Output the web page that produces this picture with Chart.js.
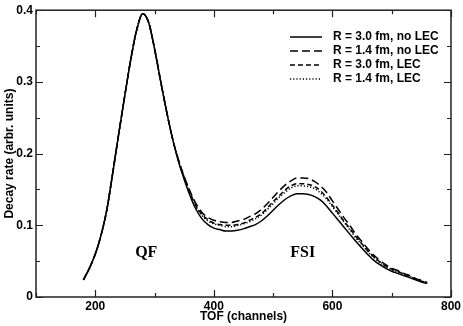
<!DOCTYPE html>
<html><head><meta charset="utf-8">
<script src="https://cdn.jsdelivr.net/npm/chart.js@4/dist/chart.umd.min.js"></script>
<style>html,body{margin:0;padding:0;background:#fff}canvas{display:block}</style>
</head><body>
<canvas id="c" width="463" height="326"></canvas>
<script>
const tof = [180,190,200,210,220,230,240,250,260,270,280,290,300,310,320,330,340,350,360,370,380,390,400,410,420,430,440,450,460,470,480,490,500,510,520,530,540,550,560,570,580,590,600,610,620,630,640,650,660,670,680,690,700,710,720,730,740,750,760];
const qfPart = [0.024,0.040,0.060,0.087,0.124,0.176,0.230,0.282,0.332,0.373,0.395,0.383,0.346,0.302,0.260,0.222];
const r30noLEC = qfPart.concat([0.190,0.164,0.141,0.122,0.109,0.101,0.096,0.094,0.092,0.092,0.093,0.095,0.098,0.101,0.106,0.113,0.121,0.129,0.136,0.141,0.144,0.144,0.143,0.140,0.135,0.127,0.117,0.107,0.097,0.087,0.077,0.068,0.059,0.051,0.045,0.040,0.036,0.033,0.030,0.027,0.024,0.021,0.019]);
const r14noLEC = qfPart.concat([0.192,0.168,0.147,0.130,0.118,0.111,0.107,0.105,0.104,0.104,0.106,0.108,0.112,0.116,0.122,0.130,0.139,0.148,0.156,0.162,0.166,0.166,0.165,0.161,0.155,0.146,0.134,0.122,0.110,0.099,0.087,0.077,0.067,0.058,0.051,0.045,0.040,0.037,0.033,0.030,0.026,0.023,0.020]);
const r30LEC = qfPart.concat([0.191,0.167,0.145,0.127,0.115,0.108,0.103,0.101,0.100,0.100,0.101,0.103,0.107,0.111,0.116,0.124,0.133,0.141,0.149,0.155,0.158,0.158,0.157,0.154,0.148,0.139,0.128,0.117,0.105,0.095,0.084,0.074,0.064,0.056,0.049,0.043,0.039,0.036,0.032,0.029,0.025,0.022,0.020]);
const r14LEC = qfPart.concat([0.191,0.166,0.144,0.126,0.114,0.106,0.102,0.100,0.098,0.098,0.100,0.102,0.105,0.109,0.114,0.122,0.130,0.139,0.146,0.152,0.155,0.155,0.154,0.151,0.145,0.137,0.126,0.115,0.104,0.093,0.082,0.073,0.063,0.055,0.048,0.042,0.038,0.035,0.032,0.029,0.025,0.022,0.020]);
const seriesLabels = ['R = 3.0 fm, no LEC','R = 1.4 fm, no LEC','R = 3.0 fm, LEC','R = 1.4 fm, LEC'];
const xTicks = [200,400,600,800];
const yTicks = [0,0.1,0.2,0.3,0.4];
const notes = [{text:'QF', x:286, y:0.062},{text:'FSI', x:550, y:0.062}];

const dashes = [[],[8,4],[5,3],[1.2,2]];
const sets = [r30noLEC,r14noLEC,r30LEC,r14LEC].map((arr,i)=>({
  label: seriesLabels[i],
  data: tof.map((t,j)=>({x:t,y:arr[j]})),
  borderColor:'#000', borderWidth:1.5, borderDash:dashes[i],
  pointRadius:0, fill:false, cubicInterpolationMode:'monotone'
}));
const bold12 = {family:'"Liberation Sans", Arial, sans-serif', size:12, weight:'bold'};

const frame = {
  id:'frame',
  afterDraw(chart){
    const {ctx, chartArea:a, scales:{x,y}} = chart;
    ctx.save();
    ctx.strokeStyle='#222'; ctx.lineWidth=1.5;
    ctx.strokeRect(a.left,a.top,a.right-a.left,a.bottom-a.top);
    ctx.lineWidth=1.2;
    ctx.beginPath();
    for(let v=100; v<=800; v+=100){
      const px=Math.round(x.getPixelForValue(v))+0.5;
      const L = (v%200===0)?7:4;
      ctx.moveTo(px,a.bottom); ctx.lineTo(px,a.bottom-L);
      ctx.moveTo(px,a.top); ctx.lineTo(px,a.top+L);
    }
    for(let k=0;k<=8;k++){
      const v=k*0.05;
      const py=Math.round(y.getPixelForValue(v))+0.5;
      const L=(k%2===0)?7:4;
      ctx.moveTo(a.left,py); ctx.lineTo(a.left+L,py);
      ctx.moveTo(a.right,py); ctx.lineTo(a.right-L,py);
    }
    ctx.stroke();
    // legend
    const lx0=290, lx1=322, tx=333; let ly=37;
    ctx.font='bold 12px "Liberation Sans", Arial, sans-serif';
    ctx.textBaseline='middle'; ctx.fillStyle='#000';
    chart.data.datasets.forEach(ds=>{
      ctx.beginPath(); ctx.setLineDash(ds.borderDash); ctx.lineWidth=1.5; ctx.strokeStyle='#000';
      ctx.moveTo(lx0,ly); ctx.lineTo(lx1,ly); ctx.stroke();
      ctx.setLineDash([]);
      ctx.fillText(ds.label,tx,ly);
      ly+=14;
    });
    // annotations
    ctx.font='bold 16px "Liberation Serif", "Times New Roman", serif';
    ctx.textAlign='center';
    notes.forEach(n=>ctx.fillText(n.text, x.getPixelForValue(n.x), y.getPixelForValue(n.y)));
    ctx.restore();
  }
};

new Chart(document.getElementById('c'),{
  type:'line',
  data:{datasets:sets},
  options:{
    responsive:false, animation:false,
    layout:{padding:{top:5,right:10,left:2,bottom:0}},
    plugins:{legend:{display:false},tooltip:{enabled:false}},
    scales:{
      x:{type:'linear',min:100,max:800,
        afterBuildTicks(s){s.ticks=xTicks.map(v=>({value:v}));},
        afterFit(s){s.height=29;},
        ticks:{font:bold12,color:'#000',padding:2,maxRotation:0},
        grid:{display:false,drawTicks:false},
        border:{display:false},
        title:{display:true,text:'TOF (channels)',font:bold12,color:'#000',padding:{top:0,bottom:2}}
      },
      y:{min:0,max:0.4,
        afterBuildTicks(s){s.ticks=yTicks.map(v=>({value:v}));},
        afterFit(s){s.width=34;},
        ticks:{font:bold12,color:'#000',padding:3,callback:v=>v===0?'0':v.toFixed(1)},
        grid:{display:false,drawTicks:false},
        border:{display:false},
        title:{display:true,text:'Decay rate (arbr. units)',font:bold12,color:'#000',padding:{top:0,bottom:0}}
      }
    }
  },
  plugins:[frame]
});
</script>
</body></html>
